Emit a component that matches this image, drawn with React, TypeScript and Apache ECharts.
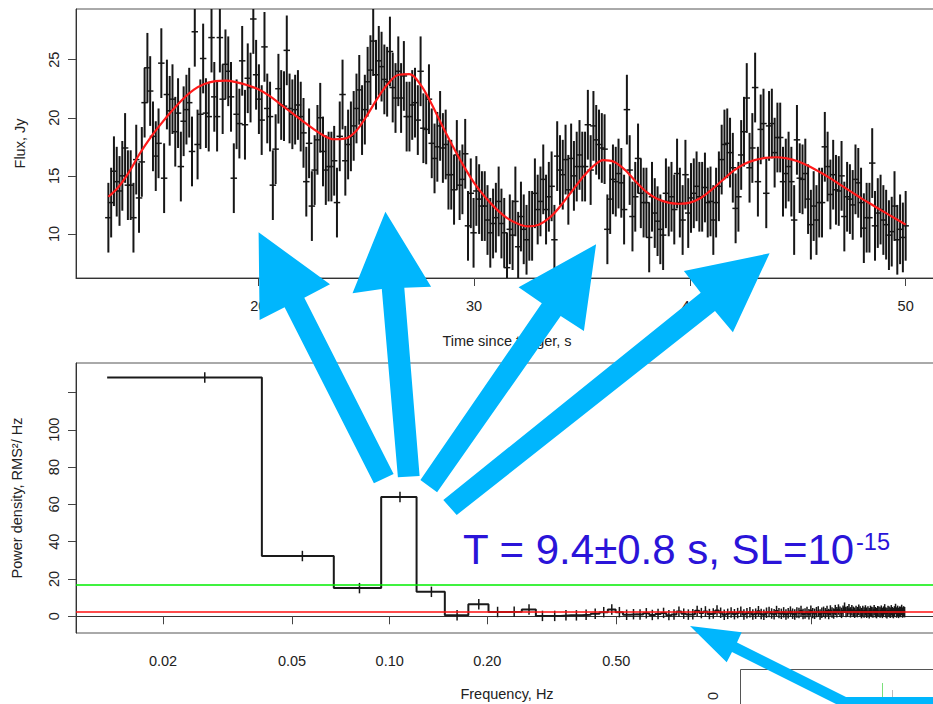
import React, { useEffect, useRef } from 'react';
import * as echarts from 'echarts';

// ---------- Light curve (top panel) ----------
const FLUX_T0 = 13.05; // s, first bin
const FLUX_DT = 0.1292; // s, bin width
const FLUX = [
  11.4, 12.7, 15.4, 14.5, 13.7, 15.0, 17.4, 14.2, 14.2, 11.4,
  16.4, 13.1, 16.2, 21.3, 24.3, 22.3, 18.4, 16.7, 17.8, 24.7,
  14.8, 22.0, 20.6, 21.6, 18.8, 20.4, 15.8, 19.7, 20.7, 21.3,
  17.1, 27.4, 17.7, 20.3, 25.1, 20.4, 20.1, 26.9, 21.8, 20.1,
  26.9, 21.6, 24.6, 24.0, 21.8, 14.8, 20.3, 19.5, 24.9, 19.4,
  23.4, 22.6, 28.5, 23.7, 21.6, 19.8, 26.1, 20.8, 20.1, 14.2,
  17.3, 22.5, 21.1, 21.0, 25.8, 20.8, 20.3, 20.7, 21.1, 20.1,
  18.7, 14.5, 17.8, 12.4, 15.5, 18.1, 20.0, 17.1, 15.5, 15.8,
  15.8, 16.3, 12.7, 18.4, 22.0, 16.3, 17.7, 18.4, 19.3, 20.8,
  22.4, 19.8, 20.7, 23.1, 24.1, 26.6, 23.7, 24.9, 24.4, 23.3,
  23.1, 25.7, 22.6, 21.7, 24.0, 21.7, 23.6, 20.1, 20.1, 21.1,
  21.3, 19.8, 24.0, 19.1, 19.0, 21.6, 17.8, 16.5, 17.5, 19.3,
  17.4, 17.7, 15.1, 15.1, 13.8, 16.8, 14.2, 14.7, 16.9,
  10.7, 13.5, 10.1, 13.7, 13.0, 12.4, 12.4, 11.2, 10.1, 10.9,
  11.4, 12.8, 10.9, 10.1, 7.1, 10.4, 9.9, 12.8, 8.9, 11.5,
  10.4, 9.5, 10.7, 10.7, 13.5, 12.1, 12.8, 14.7, 12.1, 13.2,
  14.1, 9.5, 16.7, 15.5, 15.1, 16.4, 13.8, 16.5, 15.0, 15.8,
  16.8, 15.8, 15.8, 19.4, 15.5, 19.3, 18.1, 17.7, 17.4, 17.3,
  10.4, 13.0, 14.7, 14.5, 15.2, 14.4, 12.1, 20.7, 15.5, 11.5,
  13.2, 16.5, 13.5, 12.7, 12.7, 9.7, 13.2, 11.8, 11.1, 10.4,
  9.9, 13.5, 12.8, 13.2, 12.1, 15.2, 12.7, 11.2, 15.1, 11.8,
  13.1, 13.5, 14.1, 13.2, 13.2, 14.0, 12.7, 12.8, 11.2, 12.7,
  14.1, 16.4, 17.7, 17.8, 17.0, 15.7, 12.2, 13.2, 16.8, 18.8,
  21.7, 15.7, 17.4, 22.6, 14.5, 19.0, 19.5, 13.5, 19.3, 19.5,
  17.0, 18.3, 18.3, 14.5, 15.2, 15.8, 14.5, 11.2, 18.1, 14.8,
  14.7, 15.2, 13.0, 10.8, 12.4, 11.2, 12.7, 12.7, 17.5, 15.8,
  13.4, 15.1, 13.8, 13.7, 15.0, 11.5, 13.2, 13.0, 12.5, 14.7,
  14.4, 12.7, 10.5, 11.4, 11.4, 16.1, 10.7, 11.8, 12.1, 11.2,
  10.8, 9.9, 10.2, 12.4, 9.5, 10.4, 9.7, 10.7,
];
const FLUX_ERR = 3.0;
const TIME_HALF_BAR = 0.15;

// fitted model (red curve): [time, flux]
const MODEL = [
  [13.05, 13.2], [13.5, 14.0], [14.0, 15.3], [14.5, 16.9], [15.0, 18.3], [15.5, 19.5],
  [16.0, 20.6], [16.5, 21.6], [17.0, 22.4], [17.5, 22.9], [18.0, 23.15], [18.5, 23.2],
  [19.0, 23.05], [19.5, 22.8], [20.0, 22.45], [20.5, 21.9], [21.0, 21.2], [21.5, 20.5],
  [22.0, 19.8], [22.5, 19.1], [23.0, 18.5], [23.5, 18.15], [24.0, 18.2], [24.5, 18.8],
  [25.0, 20.1], [25.5, 21.6], [26.0, 22.9], [26.5, 23.7], [27.0, 23.75], [27.5, 22.9],
  [28.0, 21.3], [28.5, 19.4], [29.0, 17.6], [29.5, 15.9], [30.0, 14.4], [30.5, 13.2],
  [31.0, 12.2], [31.5, 11.4], [32.0, 10.9], [32.5, 10.65], [33.0, 10.8], [33.5, 11.4],
  [34.0, 12.4], [34.5, 13.6], [35.0, 14.8], [35.5, 15.8], [36.0, 16.35], [36.5, 16.2],
  [37.0, 15.5], [37.5, 14.5], [38.0, 13.6], [38.5, 13.0], [39.0, 12.7], [39.5, 12.6],
  [40.0, 12.7], [40.5, 13.1], [41.0, 13.8], [41.5, 14.6], [42.0, 15.4], [42.5, 16.0],
  [43.0, 16.35], [43.5, 16.55], [44.0, 16.6], [44.5, 16.5], [45.0, 16.25], [45.5, 15.85],
  [46.0, 15.35], [46.5, 14.8], [47.0, 14.2], [47.5, 13.6], [48.0, 13.0], [48.5, 12.45],
  [49.0, 11.9], [49.5, 11.35], [50.0, 10.8],
];
const TIME_TICKS = [20, 30, 40, 50];
const FLUX_TICKS = [10, 15, 20, 25];

// ---------- Power spectrum (bottom panel) ----------
const DF = 0.0269; // Hz, frequency resolution
const POWER = [
  128, 32.3, 15.1, 64.0, 13.1, 0.5, 6.4,
  2.3, 2.4, 3.6, 0.2, 0.2, 0.5, 0.5, 0.8, 1.3, 2.2, 3.6, 2.2, 0.8,
  1.1, 0.9, 1.6, 0.7, 1.2, 1.8, 0.6, 1.0, 2.5, 1.4, 0.9, 1.1, 2.9, 1.7, 2.6, 1.2, 1.5, 3.1, 1.9, 0.8,
  1.3, 2.0, 1.1, 1.7, 2.4, 0.9, 1.6, 2.2, 1.0, 1.4, 2.7, 1.2, 0.8, 1.9, 2.3, 1.5, 1.1, 2.8, 1.7, 1.3,
  2.1, 1.0, 1.6, 2.5, 1.4, 0.9, 2.0, 1.8, 2.9, 1.2, 1.5, 2.3, 1.1, 3.0, 1.7, 1.3, 2.2, 2.6, 1.0, 1.9,
  2.4, 1.6, 2.8, 1.2, 3.1, 2.0, 1.5, 3.3, 2.2, 3.6, 2.4, 1.8, 3.0, 4.6, 2.3, 2.7, 3.8, 2.1, 3.2, 2.4,
  1.9, 2.9, 2.2, 3.5, 2.6, 1.7, 2.8, 2.0, 3.1, 1.9, 2.6, 1.6, 2.9, 2.3, 2.0, 3.3, 2.2, 1.7, 2.7, 2.4,
  2.0, 3.0, 1.8, 2.5, 3.7, 2.1, 1.6, 2.8, 2.4, 1.9, 3.2, 2.2, 1.7, 2.6, 3.9, 2.0, 2.9, 1.8, 2.5, 2.3,
  3.4, 2.0, 2.6, 2.2,
];
const POWER_ERR = 2.8;
const SIG_LEVEL = 17.0; // green
const MEAN_LEVEL = 2.3; // red
const FREQ_TICKS = [0.02, 0.05, 0.1, 0.2, 0.5, 2.0];
const FREQ_LABELS = [0.02, 0.05, 0.1, 0.2, 0.5];
const POWER_TICKS = [0, 20, 40, 60, 80, 100, 120];
const POWER_LABELS = [0, 20, 40, 60, 80, 100];

const FONT = "'Liberation Sans', Arial, Helvetica, sans-serif";
const ARROW = '#00b6fd';
const TXT = '#222';

export default function App() {
  const ref = useRef<HTMLDivElement>(null);

  useEffect(() => {
    const chart = echarts.init(ref.current!, null, { renderer: 'svg' });

    const fluxData = FLUX.map((f, i) => [FLUX_T0 + i * FLUX_DT, f, FLUX_ERR]);
    const stepData: number[][] = [];
    POWER.forEach((p, i) => {
      const k = i + 1;
      stepData.push([(k - 0.5) * DF, p]);
      stepData.push([(k + 0.5) * DF, p]);
    });
    const powerErrData = POWER.map((p, i) => [(i + 1) * DF, p, POWER_ERR]);

    const axisCommon = {
      splitLine: { show: false },
      axisLine: { show: true, lineStyle: { color: '#333', width: 1 } },
      nameTextStyle: { fontSize: 14.5, color: TXT, fontFamily: FONT },
    };

    const errRender = (halfX: number | null, w: number) => (params: any, api: any) => {
      const x = api.value(0);
      const y = api.value(1);
      const e = api.value(2);
      const top = api.coord([x, y + e]);
      const bot = api.coord([x, y - e]);
      const children: any[] = [
        {
          type: 'line',
          shape: { x1: top[0], y1: top[1], x2: bot[0], y2: bot[1] },
          style: { stroke: '#161616', lineWidth: w },
        },
      ];
      if (halfX !== null) {
        const l = api.coord([x - halfX, y]);
        const r = api.coord([x + halfX, y]);
        children.push({
          type: 'line',
          shape: { x1: l[0], y1: l[1], x2: r[0], y2: r[1] },
          style: { stroke: '#161616', lineWidth: 1.5 },
        });
      }
      return { type: 'group', children };
    };

    const arrow = (pts: number[][]) => ({
      type: 'polygon',
      z: 100,
      shape: { points: pts },
      style: { fill: ARROW },
      silent: true,
    });

    const option: any = {
      animation: false,
      backgroundColor: '#fff',
      grid: [
        { left: 76, top: 9, right: -5, height: 269, show: true, borderColor: '#555', borderWidth: 1, outerBoundsMode: 'none' },
        { left: 76, top: 363, right: -5, height: 270, show: true, borderColor: '#555', borderWidth: 1, outerBoundsMode: 'none' },
      ],
      xAxis: [
        {
          ...axisCommon,
          gridIndex: 0,
          type: 'value',
          min: 11.55,
          max: 51.5,
          name: 'Time since trigger, s',
          nameLocation: 'middle',
          nameGap: 55,
          axisTick: { show: true, length: 8, customValues: TIME_TICKS, lineStyle: { color: '#444' } },
          axisLabel: { customValues: TIME_TICKS, margin: 20, fontSize: 14.5, color: TXT, fontFamily: FONT },
        },
        {
          ...axisCommon,
          gridIndex: 1,
          type: 'log',
          logBase: 10,
          min: 0.01078,
          max: 4.91,
          name: 'Frequency, Hz',
          nameLocation: 'middle',
          nameGap: 53,
          axisTick: { show: true, length: 8, customValues: FREQ_TICKS, lineStyle: { color: '#444' } },
          axisLabel: {
            customValues: FREQ_LABELS,
            margin: 20,
            fontSize: 14.5,
            color: TXT,
            fontFamily: FONT,
            formatter: (v: number) => Number(v).toFixed(2),
          },
        },
      ],
      yAxis: [
        {
          ...axisCommon,
          gridIndex: 0,
          type: 'value',
          min: 6.21,
          max: 29.36,
          name: 'Flux, Jy',
          nameLocation: 'middle',
          nameGap: 49,
          axisTick: { show: true, length: 8, customValues: FLUX_TICKS, lineStyle: { color: '#444' } },
          axisLabel: { customValues: FLUX_TICKS, rotate: 90, margin: 15, fontSize: 14.5, color: TXT, fontFamily: FONT },
        },
        {
          ...axisCommon,
          gridIndex: 1,
          type: 'value',
          min: -8.97,
          max: 135.8,
          name: 'Power density, RMS²/ Hz',
          nameLocation: 'middle',
          nameGap: 52,
          axisTick: { show: true, length: 8, customValues: POWER_TICKS, lineStyle: { color: '#444' } },
          axisLabel: { customValues: POWER_LABELS, rotate: 90, margin: 15, fontSize: 14.5, color: TXT, fontFamily: FONT },
        },
      ],
      series: [
        {
          name: 'flux',
          type: 'custom',
          xAxisIndex: 0,
          yAxisIndex: 0,
          clip: true,
          encode: { x: 0, y: 1 },
          data: fluxData,
          renderItem: errRender(TIME_HALF_BAR, 2),
          z: 2,
        },
        {
          name: 'model',
          type: 'line',
          xAxisIndex: 0,
          yAxisIndex: 0,
          data: MODEL,
          smooth: 0.35,
          showSymbol: false,
          lineStyle: { color: '#ff1a1a', width: 2.2 },
          z: 3,
        },
        {
          name: 'power',
          type: 'line',
          xAxisIndex: 1,
          yAxisIndex: 1,
          data: stepData,
          showSymbol: false,
          lineStyle: { color: '#1a1a1a', width: 2 },
          z: 2,
          markLine: {
            silent: true,
            symbol: ['none', 'none'],
            label: { show: false },
            data: [
              { yAxis: SIG_LEVEL, lineStyle: { color: '#00ee00', width: 1.6, type: 'solid' } },
              { yAxis: MEAN_LEVEL, lineStyle: { color: '#ff1010', width: 1.6, type: 'solid' } },
            ],
          },
        },
        {
          name: 'powerErr',
          type: 'custom',
          xAxisIndex: 1,
          yAxisIndex: 1,
          clip: true,
          encode: { x: 0, y: 1 },
          data: powerErrData,
          renderItem: errRender(null, 1.5),
          z: 3,
        },
      ],
      graphic: [
        // inset of another figure (bottom right)
        {
          type: 'rect',
          z: 90,
          shape: { x: 740.5, y: 669.5, width: 260, height: 80 },
          style: { fill: '#fff', stroke: '#555', lineWidth: 1 },
        },
        {
          type: 'line',
          z: 91,
          shape: { x1: 882.5, y1: 683, x2: 882.5, y2: 697 },
          style: { stroke: '#7be07b', lineWidth: 1 },
        },
        {
          type: 'line',
          z: 91,
          shape: { x1: 892.5, y1: 690, x2: 892.5, y2: 704 },
          style: { stroke: '#bbb', lineWidth: 1 },
        },
        {
          type: 'text',
          z: 91,
          x: 713,
          y: 696,
          rotation: Math.PI / 2,
          style: { text: '0', fontSize: 14.5, fill: TXT, fontFamily: FONT, align: 'center', verticalAlign: 'middle' },
        },
        // arrows
        arrow([[373.9, 483.3], [284.6, 307.3], [259.6, 320], [258.6, 232.3], [330, 284.3], [304.3, 297.7], [393.6, 474]]),
        arrow([[397.9, 477.3], [381.8, 289], [352.5, 293.3], [385.4, 211.7], [431.1, 286.7], [404.3, 287.7], [419.6, 476]]),
        arrow([[420.4, 480], [541.8, 303.3], [518.6, 287.3], [596.1, 244.3], [583.9, 331], [560.7, 316], [437.1, 492.3]]),
        arrow([[443.3, 500], [700.7, 292.7], [683.9, 271], [769.6, 253.3], [732.9, 332.3], [715, 311], [456.7, 515]]),
        arrow([[690, 626], [741.7, 632.3], [737, 642.5], [846, 697], [945, 697], [945, 712], [852, 712], [732, 652], [726.7, 662.3]]),
        // period annotation
        {
          type: 'text',
          z: 110,
          x: 463,
          y: 549,
          style: {
            text: 'T = 9.4±0.8 s, SL=10',
            fontSize: 42,
            fill: '#2a14d9',
            fontFamily: FONT,
            align: 'left',
            verticalAlign: 'middle',
          },
        },
        {
          type: 'text',
          z: 110,
          x: 856,
          y: 541.5,
          style: {
            text: '-15',
            fontSize: 23.5,
            fill: '#2a14d9',
            fontFamily: FONT,
            align: 'left',
            verticalAlign: 'middle',
          },
        },
      ],
    };

    chart.setOption(option);
    return () => chart.dispose();
  }, []);

  return (
    <div
      ref={ref}
      style={{ position: 'absolute', left: 0, top: 0, width: 933, height: 704, background: '#fff' }}
    />
  );
}
